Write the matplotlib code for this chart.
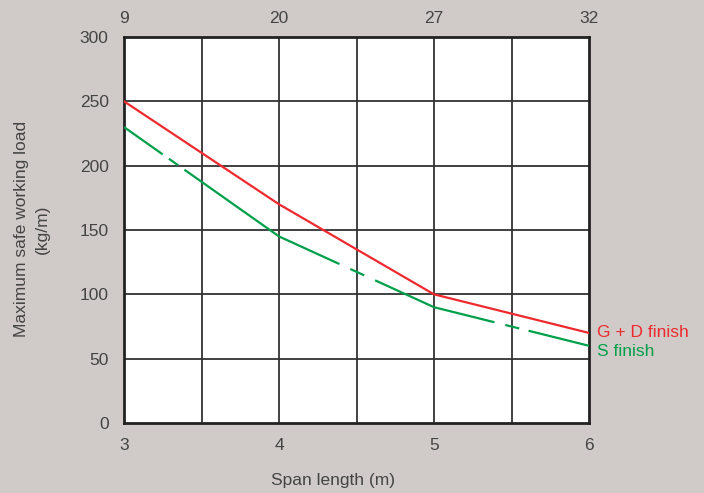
import numpy as np
import matplotlib
matplotlib.use('Agg')
import matplotlib.pyplot as plt

span = [3, 4, 5, 6]
span_top = ['9', '20', '27', '32']
load_gd = [250, 170, 100, 70]
load_s = [230, 145, 90, 60]

# where the green line breaks, as fraction of each segment
# (solid end, dash start, dash end, solid start)
S_BREAKS = [(0.25, 0.29, 0.35, 0.39),
            (0.39, 0.46, 0.55, 0.62),
            (0.39, 0.46, 0.55, 0.61)]

BG = '#d0cbc8'
RED = '#ee2a2e'
GREEN = '#00a04b'
TXT = '#444444'
FS = 12.5

plt.rcParams['font.family'] = ['Liberation Sans', 'DejaVu Sans']
plt.rcParams['lines.scale_dashes'] = False

W, H = 704, 493
fig = plt.figure(figsize=(W / 100, H / 100), dpi=100, facecolor=BG)
ax = fig.add_axes([124 / W, 1 - 423 / H, (589 - 124) / W, (423 - 37) / H])
ax.set_facecolor('white')
ax.set_xlim(3, 6)
ax.set_ylim(0, 300)

for x in np.arange(3.5, 6, 0.5):
    ax.axvline(x, color='#333333', lw=1.3, zorder=1)
for y in range(50, 300, 50):
    ax.axhline(y, color='#333333', lw=1.3, zorder=1)
for s in ax.spines.values():
    s.set_linewidth(2)
    s.set_color('#222222')

ax.plot(span, load_gd, color=RED, lw=1.6, zorder=3)

# green line: each segment drawn with its own break pattern
pts_per_px = 72 / fig.dpi
for i in range(len(span) - 1):
    p0 = ax.transData.transform((span[i], load_s[i]))
    p1 = ax.transData.transform((span[i + 1], load_s[i + 1]))
    L = np.hypot(*(p1 - p0)) * pts_per_px
    a, b, c, d = S_BREAKS[i]
    dashes = [a * L, (b - a) * L, (c - b) * L, (d - c) * L, (1 - d) * L, L]
    ax.plot(span[i:i + 2], load_s[i:i + 2], color=GREEN, lw=1.6,
            dashes=dashes, zorder=3)

ax.set_xticks(span)
ax.set_xticklabels([str(v) for v in span])
ax.set_yticks(range(0, 301, 50))
ax.tick_params(length=0, labelsize=FS, colors=TXT, pad=11)
ax.tick_params(axis='y', pad=11)

top = ax.secondary_xaxis('top')
top.set_xticks(span)
top.set_xticklabels(span_top)
top.tick_params(length=0, labelsize=FS, colors=TXT, pad=8)
top.spines['top'].set_visible(False)

fig.text(333 / W, 1 - 480 / H, 'Span length (m)', fontsize=FS, color=TXT,
         ha='center', va='center')
fig.text(32 / W, 1 - 229 / H, 'Maximum safe working load\n(kg/m)',
         fontsize=FS, color=TXT, ha='center', va='center', rotation=90,
         linespacing=1.45, multialignment='center')

ax.annotate('G + D finish', (span[-1], load_gd[-1]), xytext=(6, 0),
            textcoords='offset points', color=RED, fontsize=FS,
            va='center', ha='left', annotation_clip=False)
ax.annotate('S finish', (span[-1], load_s[-1]), xytext=(6, -4),
            textcoords='offset points', color=GREEN, fontsize=FS,
            va='center', ha='left', annotation_clip=False)

fig.savefig('out.png', dpi=100, facecolor=BG)
